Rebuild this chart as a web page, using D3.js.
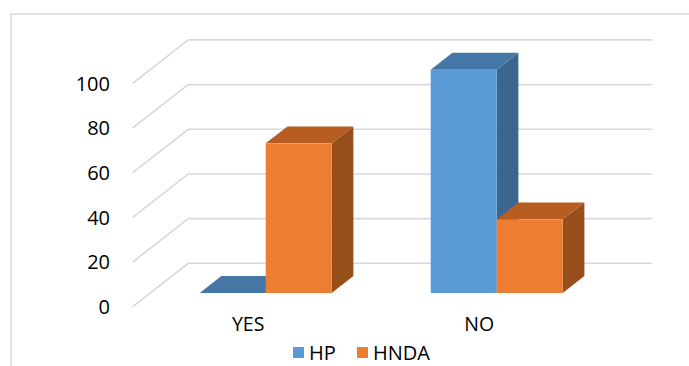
<!DOCTYPE html>
<html>
<head>
<meta charset="utf-8">
<script src="https://cdn.jsdelivr.net/npm/d3@7"></script>
<style>
  body { margin: 0; background: #fff; }
  text { font-family: "Open Sans", sans-serif; fill: #000; }
</style>
</head>
<body>
<script>
// data
const categories = ["YES", "NO"]
const seriesNames = ["HP", "HNDA"]
const hpValues = [0, 100]
const hndaValues = [67, 33]
const tickValues = [0, 20, 40, 60, 80, 100]

const w = 689
const h = 366

const front = {x: 132.7, y0: 306.7, y100: 83.3}
const plotW = 462
const depth = {dx: 55.6, dy: -43.4}
const barFront = 0.315
const barBack = 0.705

const colors = {
    HP: {front: "#5b9bd5", top: "#4477a6", side: "#3a668f"},
    HNDA: {front: "#ed7d31", top: "#b75d22", side: "#97501c"}
}

const svg = d3.select("body")
              .append("svg")
              .attr("width", w)
              .attr("height", h)

// chart frame
svg.append("rect")
   .attr("x", 11)
   .attr("y", 14)
   .attr("width", 700)
   .attr("height", 400)
   .attr("fill", "none")
   .attr("stroke", "#e4e4e4")
   .attr("stroke-width", 2)

const y = d3.scaleLinear().domain([0, 100]).range([front.y0, front.y100])
const x0 = d3.scaleBand().domain(categories).range([0, plotW])
const x1 = d3.scaleBand().domain(seriesNames).range([0, x0.bandwidth()]).paddingOuter(0.75)

// project (plot x, value, depth) to screen
const px = (xp, d) => front.x + xp + d * depth.dx
const py = (v, d) => y(v) + d * depth.dy

// gridlines
const grid = svg.append("g")
tickValues.forEach((t) => {
    grid.append("polyline")
        .attr("points", [
            [px(0, 0), py(t, 0)],
            [px(0, 1), py(t, 1)],
            [px(plotW, 1) + 2, py(t, 1)]
        ].map(p => p.join(",")).join(" "))
        .attr("fill", "none")
        .attr("stroke", "#d9d9d9")
        .attr("stroke-width", 1.6)
})

// tick labels
svg.append("g")
   .selectAll("text")
   .data(tickValues)
   .enter()
   .append("text")
   .attr("x", 110)
   .attr("y", (d) => py(d, 0))
   .attr("dy", "0.36em")
   .attr("text-anchor", "end")
   .style("font-size", "20px")
   .text((d) => d)

// bars
const bars = []
categories.forEach((c, i) => {
    bars.push({cat: c, name: "HP", value: hpValues[i]})
    bars.push({cat: c, name: "HNDA", value: hndaValues[i]})
})

const pts = (arr) => arr.map(p => p.join(",")).join(" ")

bars.forEach((b) => {
    const xl = x0(b.cat) + x1(b.name)
    const xr = xl + x1.bandwidth()
    const g = svg.append("g")
    const col = colors[b.name]
    // right side
    if (b.value > 0) {
        g.append("polygon")
         .attr("points", pts([
            [px(xr, barFront), py(0, barFront)],
            [px(xr, barBack), py(0, barBack)],
            [px(xr, barBack), py(b.value, barBack)],
            [px(xr, barFront), py(b.value, barFront)]
         ]))
         .attr("fill", col.side)
    }
    // top
    g.append("polygon")
     .attr("points", pts([
        [px(xl, barFront), py(b.value, barFront)],
        [px(xl, barBack), py(b.value, barBack)],
        [px(xr, barBack), py(b.value, barBack)],
        [px(xr, barFront), py(b.value, barFront)]
     ]))
     .attr("fill", col.top)
    // front
    if (b.value > 0) {
        g.append("rect")
         .attr("x", px(xl, barFront))
         .attr("y", py(b.value, barFront))
         .attr("width", xr - xl)
         .attr("height", py(0, barFront) - py(b.value, barFront))
         .attr("fill", col.front)
    }
})

// category labels
svg.append("g")
   .selectAll("text")
   .data(categories)
   .enter()
   .append("text")
   .attr("x", (d) => px(x0(d) + x0.bandwidth() / 2, 0))
   .attr("y", 331)
   .attr("text-anchor", "middle")
   .style("font-size", "19.5px")
   .text((d) => d)

// legend
const legendX = [293, 357]
const legend = svg.append("g")
seriesNames.forEach((s, i) => {
    legend.append("rect")
          .attr("x", legendX[i])
          .attr("y", 347)
          .attr("width", 11)
          .attr("height", 11)
          .attr("fill", colors[s].front)
    legend.append("text")
          .attr("x", legendX[i] + 16)
          .attr("y", 359.5)
          .style("font-size", "20px")
          .text(s)
})
</script>
</body>
</html>
